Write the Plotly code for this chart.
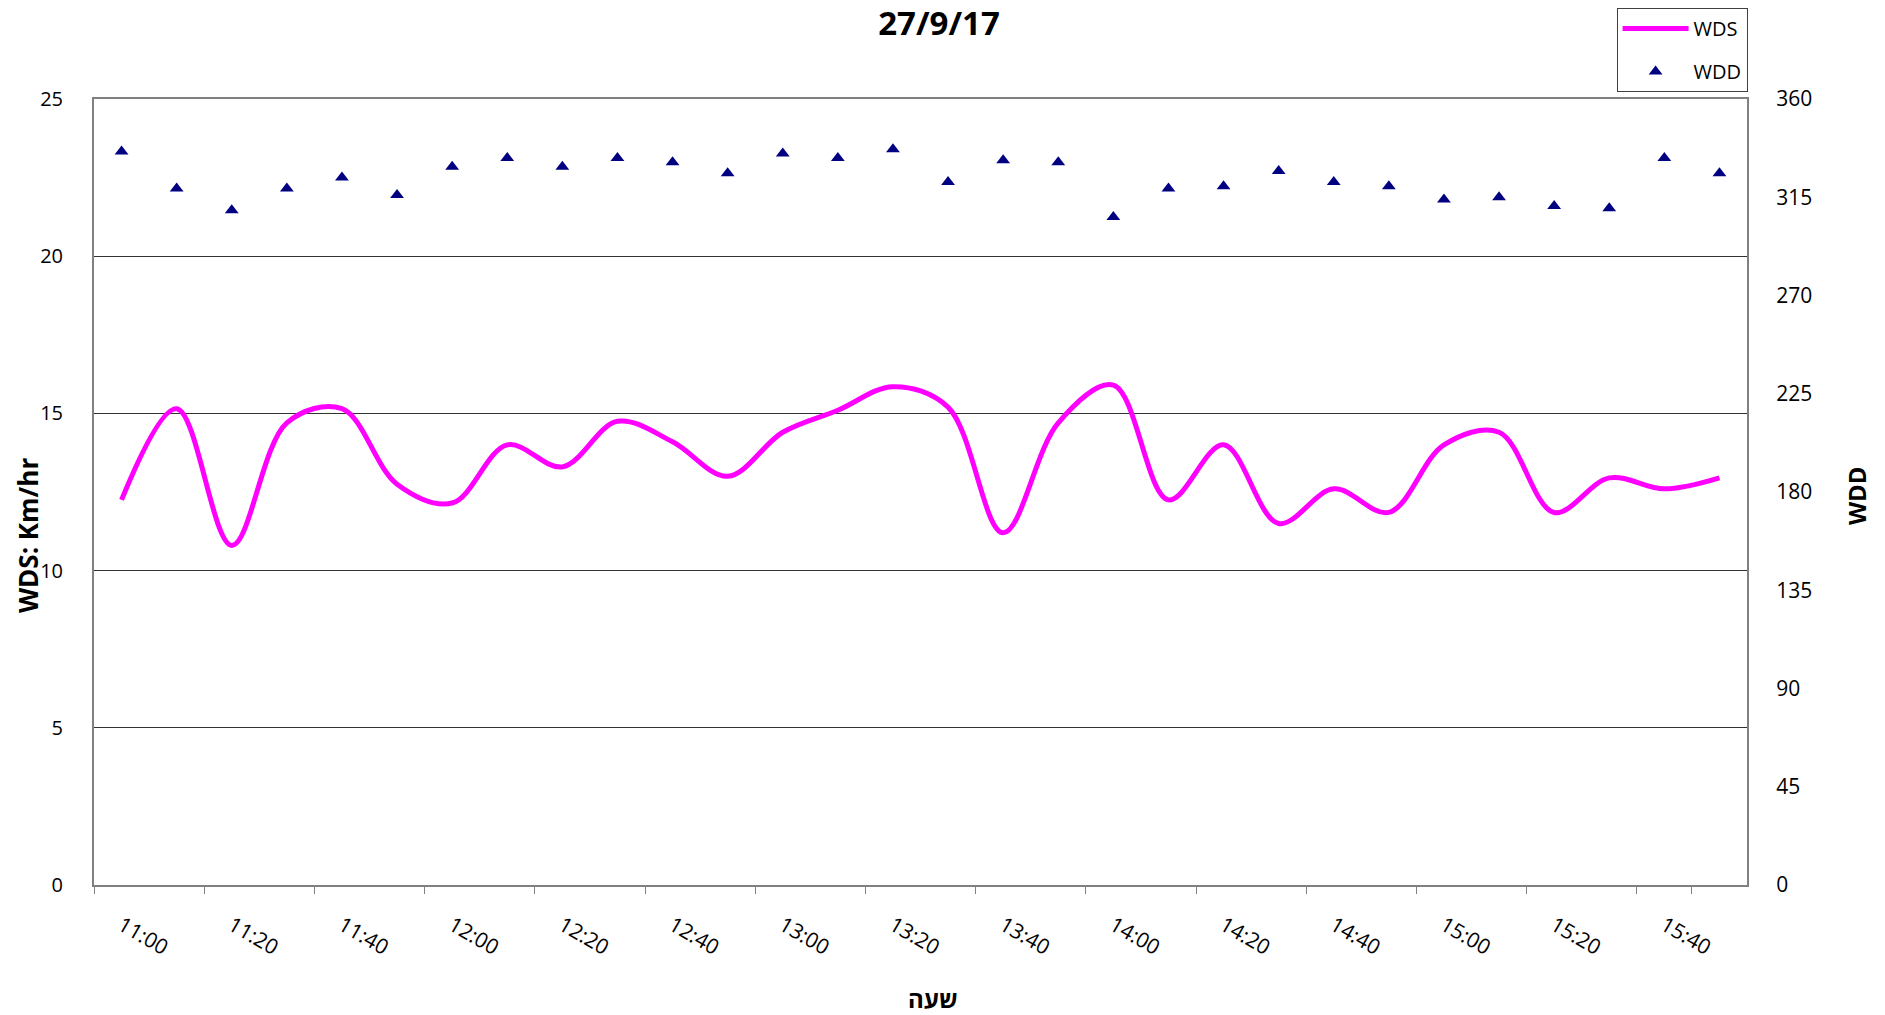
import plotly.graph_objects as go

times = ["11:00", "11:10", "11:20", "11:30", "11:40", "11:50",
         "12:00", "12:10", "12:20", "12:30", "12:40", "12:50",
         "13:00", "13:10", "13:20", "13:30", "13:40", "13:50",
         "14:00", "14:10", "14:20", "14:30", "14:40", "14:50",
         "15:00", "15:10", "15:20", "15:30", "15:40", "15:50"]

wds = [12.25, 15.15, 10.8, 14.7, 15.15, 12.75,
       12.15, 14.0, 13.3, 14.75, 14.1, 13.0,
       14.4, 15.1, 15.85, 15.2, 11.2, 14.7,
       15.9, 12.25, 14.0, 11.5, 12.6, 11.85,
       14.0, 14.4, 11.85, 12.95, 12.6, 12.95]

wdd = [336, 319, 309, 319, 324, 316,
       329, 333, 329, 333, 331, 326,
       335, 333, 337, 322, 332, 331,
       306, 319, 320, 327, 322, 320,
       314, 315, 311, 310, 333, 326]

tick_labels = times[::2]
wds_ticks = [0, 5, 10, 15, 20, 25]
wdd_ticks = [0, 45, 90, 135, 180, 225, 270, 315, 360]

FONT = "Open Sans"

fig = go.Figure()
fig.add_trace(go.Scatter(
    x=times, y=wds, name="WDS", mode="lines", legendgroup="a",
    line=dict(color="#FF00FF", width=5, shape="spline", smoothing=1),
    yaxis="y"))
fig.add_trace(go.Scatter(
    x=times, y=wdd, name="WDD", mode="markers", legendgroup="b",
    marker=dict(symbol="triangle-up", size=12, color="#000080"),
    yaxis="y2"))

fig.update_layout(
    width=1877, height=1007,
    margin=dict(l=86, r=138, t=91, b=130, autoexpand=False),
    paper_bgcolor="white", plot_bgcolor="white",
    font=dict(family=FONT, color="black", size=20),
    title=dict(text="<b>27/9/17</b>", x=0.496, xanchor="center",
               yref="container", y=0.985, yanchor="middle",
               font=dict(size=33, family=FONT)),
    showlegend=True,
    legend=dict(xref="container", yref="container", x=0.857, y=1.0,
                xanchor="left", yanchor="top",
                bordercolor="#404040", borderwidth=1, bgcolor="white",
                font=dict(size=20), itemwidth=66, tracegroupgap=14),
    xaxis=dict(
        type="category", categoryorder="array", categoryarray=times,
        range=[-0.5, len(times) - 0.5], autorange=False,
        tickmode="array", tickvals=tick_labels, ticktext=tick_labels,
        tickson="boundaries", ticks="outside", ticklen=7,
        tickcolor="#808080", tickwidth=1, ticklabelstandoff=18,
        tickangle=30, tickfont=dict(size=21), automargin=True,
        showline=True, linecolor="#808080", linewidth=2, mirror=True,
        showgrid=False, zeroline=False),
    yaxis=dict(
        range=[0, 25], tickvals=wds_ticks, automargin=True,
        showgrid=True, gridcolor="#333333", gridwidth=1,
        showline=True, linecolor="#808080", linewidth=2,
        ticks="", ticklabelstandoff=25, zeroline=False,
        tickfont=dict(size=20)),
    yaxis2=dict(
        range=[0, 360], tickvals=wdd_ticks, overlaying="y", side="right",
        automargin=True,
        showgrid=False, showline=True, linecolor="#808080", linewidth=2,
        ticks="", ticklabelstandoff=23, zeroline=False,
        tickfont=dict(size=21)),
    annotations=[
        dict(text="<b>WDD</b>", xref="paper", yref="paper",
             x=1.066, y=0.4949, xanchor="center", yanchor="middle",
             textangle=-90, showarrow=False, font=dict(size=24)),
        dict(text="<b>WDS: Km/hr</b>", xref="paper", yref="paper",
             x=-0.0399, y=0.444, xanchor="center", yanchor="middle",
             textangle=-90, showarrow=False, font=dict(size=26)),
        dict(text="<b>שעה</b>", xref="paper", yref="paper",
             x=0.5076, y=-0.145, xanchor="center", yanchor="middle",
             showarrow=False, font=dict(size=24)),
    ],
)

fig.write_html("out.html")
